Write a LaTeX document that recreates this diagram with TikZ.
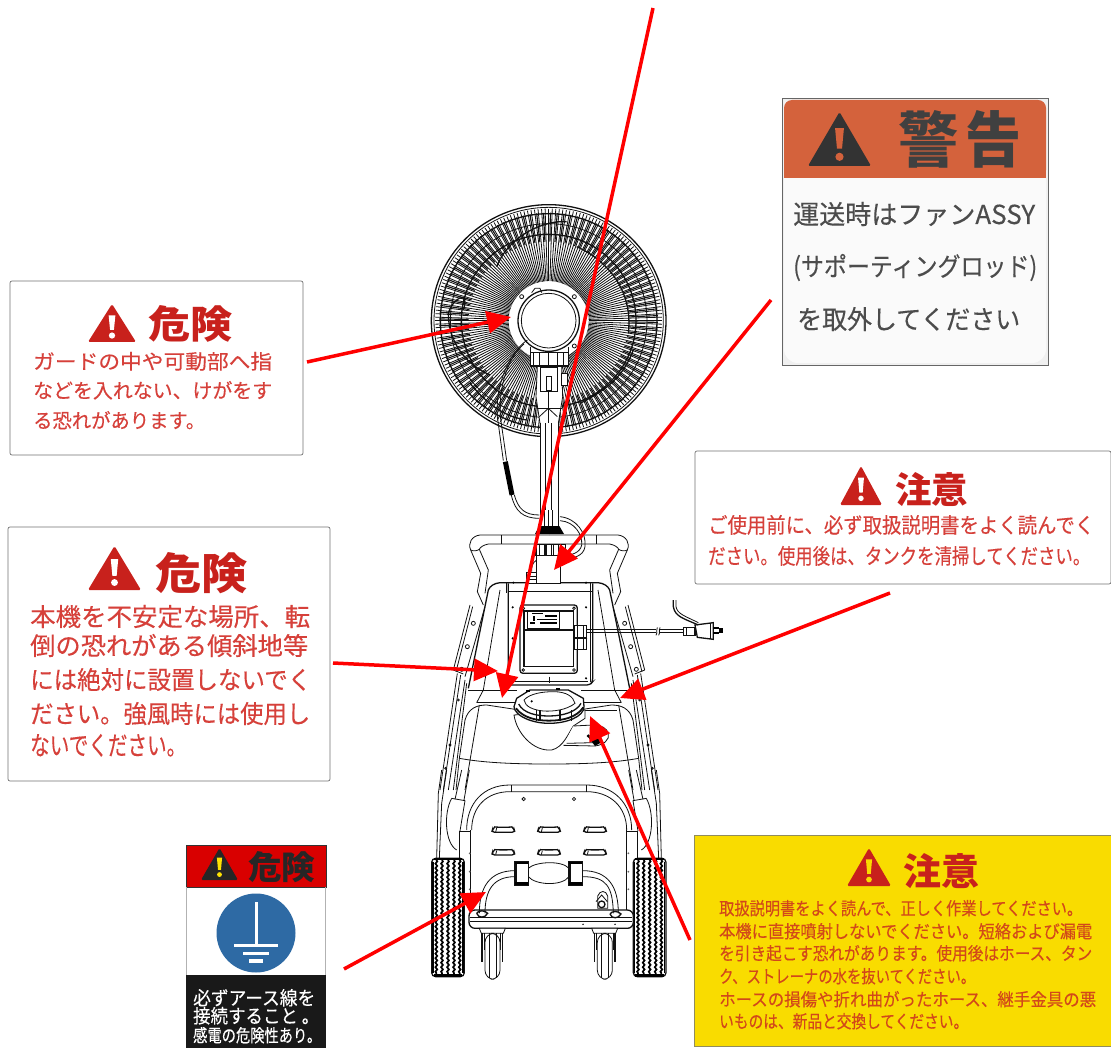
\documentclass[tikz,border=0pt]{standalone}
\usepackage{fontspec}
\usepackage{graphicx}
\newfontfamily\jp[FakeBold=0.25]{Noto Sans CJK JP}
\newfontfamily\jpb{Noto Sans CJK JP}
\usetikzlibrary{arrows.meta,decorations.pathmorphing}
\definecolor{redtxt}{HTML}{D6403A}
\definecolor{redhead}{HTML}{C8211C}
\definecolor{yeltxt}{HTML}{D2481A}
\definecolor{yelbg}{HTML}{F9DC00}
\definecolor{orhead}{HTML}{D4623C}
\definecolor{earth}{HTML}{2E6AA4}
\definecolor{lineblk}{HTML}{111111}
\newcounter{tln}
% colour, x, baseline, width, height, text
\newcommand\tl[6]{\stepcounter{tln}\node[anchor=base west,inner sep=0pt,text=#1] (tl\arabic{tln}) at (#2,#3) {\resizebox{#4pt}{#5pt}{\jp #6}};}
\newcommand\tlb[6]{\stepcounter{tln}\node[anchor=base west,inner sep=0pt,text=#1] (tl\arabic{tln}) at (#2,#3) {\resizebox{#4pt}{#5pt}{\jpb\bfseries #6}};}
% fill, mark, left, right, top, bottom
\newcommand\warn[6]{%
\fill[#1,rounded corners=1.5pt] ({(#3+#4)/2},#5) -- (#4,#6) -- (#3,#6) -- cycle;
\fill[#2] ({(#3+#4)/2-0.07*(#4-#3)},{#5+0.30*(#6-#5)}) -- ({(#3+#4)/2+0.07*(#4-#3)},{#5+0.30*(#6-#5)}) -- ({(#3+#4)/2+0.04*(#4-#3)},{#5+0.68*(#6-#5)}) -- ({(#3+#4)/2-0.04*(#4-#3)},{#5+0.68*(#6-#5)}) -- cycle;
\fill[#2] ({(#3+#4)/2},{#5+0.83*(#6-#5)}) circle ({0.065*(#4-#3)});}
\tikzset{
 lbl/.style={draw=black!55,fill=white,line width=.7pt,rounded corners=2pt},
 ink/.style={draw=lineblk,line width=.8pt},
 inkt/.style={draw=lineblk,line width=1.3pt},
 inkth/.style={draw=lineblk,line width=.6pt},
 callout/.style={draw=red,line width=3.5pt,-{Triangle[length=24pt,width=22pt]},shorten >=0pt},
 tread/.style={draw=black,line width=1.7pt,decorate,decoration={snake,amplitude=.9pt,segment length=4.5pt}}
}
\begin{document}
\begin{tikzpicture}[x=1pt,y=-1pt]
\useasboundingbox (0,0) rectangle (1111,1048);
\fill[white] (0,0) rectangle (1111,1048);

% ---------- FAN (zoom 1 coordinates)
\begin{scope}[shift={(420,190)},scale=1/3]
 \foreach \a in {0,1.8,...,358.5} {\draw[inkth,line width=.8pt] ({386+120*cos(\a)},{392+118*sin(\a)}) -- ({386+340*cos(\a)},{392+336*sin(\a)});}
 \foreach \a in {0.9,4.5,...,358} {\draw[inkth,line width=1.1pt] ({386+240*cos(\a)},{392+237*sin(\a)}) -- ({386+328*cos(\a)},{392+324*sin(\a)});}
 \draw[inkt] (386,392) ellipse (352 and 348);
 \draw[ink] (386,392) ellipse (344 and 340);
 \draw[inkt] (386,392) ellipse (325 and 321);
 \draw[inkt] (386,392) ellipse (262 and 259);
 \draw[ink] (386,392) ellipse (295 and 291);
 % blade arcs
 \draw[inkt] (230,230) .. controls (270,130) and (380,90) .. (440,95);
 \draw[inkt] (470,170) .. controls (560,210) and (640,300) .. (625,430);
 \draw[inkt] (130,360) .. controls (150,300) and (100,320) .. (85,370) .. controls (85,450) and (130,520) .. (210,555);
 \draw[inkt] (640,480) .. controls (610,560) and (560,600) .. (480,640);
 \draw[inkt] (150,580) .. controls (200,640) and (250,680) .. (320,690);
 % neck
 \fill[white] (352,530) -- (425,530) -- (430,620) -- (415,700) -- (360,700) -- (347,620) -- cycle;
 \draw[ink] (352,530) -- (348,620) -- (360,700);
 \draw[ink] (425,530) -- (428,620) -- (415,700);
 \draw[ink] (350,655) -- (426,655);
 \draw[ink] (358,680) -- (385,655) -- (412,680);
 \draw[ink] (385,605) -- (385,700);
 \draw[inkt,fill=white] (362,532) rectangle (413,605);
 \draw[ink] (378,560) rectangle (395,600);
 \draw[ink,fill=white] (425,550) rectangle (443,585);
 % hub
 \fill[white] (386,392) circle (118);
 \fill[white] (331,470) rectangle (444,527);
 \draw[ink] (330,470) -- (330,528) -- (445,528) -- (445,470);
 \foreach \x in {340,358,385,412,430} {\draw[inkt] (\x,490) -- (\x,527);}
 \draw[inkt] (330,527) -- (445,527);
 \draw[ink] (330,488) -- (445,488);
 \draw[inkt] (386,392) circle (92);
 \draw[ink] (386,392) circle (82);
 \draw[ink] (305,320) circle (6);
 \draw[ink] (463,320) circle (6);
 \draw[ink] (463,468) circle (6);
 \draw[ink] (335,308) -- (345,295) -- (360,295) -- (365,308);
 % stem
 \fill[white] (360,700) rectangle (415,1020);
 \foreach \x in {360,377,393,415} {\draw[ink] (\x,700) -- (\x,1020);}
 % cord
 \draw[ink] (322,450) .. controls (265,490) and (225,590) .. (232,680) -- (250,812);
 \draw[ink] (312,462) .. controls (265,500) and (235,590) .. (241,680) -- (260,812);
 \draw[line width=5pt,black] (256,815) -- (276,915);
 \draw[ink] (274,915) .. controls (285,965) and (310,985) .. (358,985);
 \draw[ink] (283,915) .. controls (295,958) and (315,975) .. (358,975);
\end{scope}

% ---------- BODY (zoom 2 coordinates)
\begin{scope}[shift={(420,510)},scale=1/3]
 \foreach \m in {0,1} {
 \begin{scope}[shift={(774*\m,0)},xscale={1-2*\m}]
  % handle
  \draw[ink] (387,75) -- (180,75) .. controls (155,78) and (143,100) .. (152,120) -- (182,190) -- (172,245) -- (190,285);
  \draw[ink] (387,102) -- (205,102) .. controls (190,105) and (180,112) .. (178,118) -- (205,180) -- (195,250);
  \draw[ink] (152,120) .. controls (160,125) and (172,122) .. (178,118);
  \draw[ink] (245,75) -- (245,102);
  % rails
  \draw[ink] (150,285) -- (100,480);
  \draw[ink] (158,290) -- (108,485);
  \draw[ink] (195,290) -- (135,500);
  \draw[ink] (100,480) -- (130,492);
  \draw[ink] (160,340) circle (6);
  \draw[ink] (142,410) circle (6);
  \draw[ink] (125,478) circle (6);
  \draw[ink] (112,490) -- (60,840);
  \draw[ink] (122,495) -- (70,840);
  \draw[ink] (135,510) -- (85,840);
  \draw[ink] (140,520) -- (100,840);
  \draw[ink] (115,570) circle (3);
  \draw[ink] (90,705) circle (3);
  \draw[ink] (77,775) circle (3);
  % body shoulders
  \draw[inkt] (387,218) -- (240,218) .. controls (222,220) and (210,228) .. (205,240) -- (145,535);
  \draw[ink] (240,240) -- (190,540);
  \draw[ink] (145,540) -- (290,540);
  \draw[ink] (170,578) -- (285,578);
  \draw[ink] (190,540) -- (170,578);
  \draw[ink] (135,630) .. controls (145,595) and (170,585) .. (200,585) -- (285,598);
  \draw[ink] (178,585) -- (135,840);
  \draw[ink] (135,630) -- (118,745) -- (108,840);
  \draw[ink] (118,745) .. controls (200,760) and (300,762) .. (387,762);
 \end{scope}}
 % collar and upper stem
 \fill[white] (372,0) rectangle (415,52);
 \foreach \x in {372,385,398,415} {\draw[ink] (\x,0) -- (\x,52);}
 \fill[black] (358,48) -- (418,48) -- (432,72) -- (345,72) -- cycle;
 \draw[ink,fill=white] (345,102) rectangle (435,135);
 \foreach \x in {350,358,375,380,395,400,415,425} {\draw[inkt] (\x,102) -- (\x,135);}
 \draw[ink,fill=white] (350,135) -- (420,135) -- (420,220) -- (350,220) -- cycle;
 \draw[ink] (420,20) .. controls (470,25) and (500,70) .. (495,110) .. controls (490,140) and (460,145) .. (420,150);
 \draw[ink] (420,32) .. controls (465,35) and (488,75) .. (485,105) .. controls (480,130) and (455,135) .. (420,140);
 \draw[ink] (350,150) .. controls (335,160) and (335,170) .. (335,185);
 \draw[inkt,fill=white] (320,188) rectangle (350,220);
 \draw[ink] (320,198) -- (350,198); \draw[ink] (320,208) -- (350,208);
 % panel
 \draw[inkt,rounded corners=3pt] (265,220) -- (265,525) -- (510,525) -- (518,515) -- (518,220);
 \draw[ink] (258,220) -- (258,250);
 \draw[ink] (510,220) -- (510,515);
 \draw[ink] (265,245) -- (515,245);
 \draw[ink] (275,515) -- (505,515);
 \foreach \p in {(278,292),(498,292),(278,385),(498,385),(278,505),(498,505),(280,218),(498,218)} {\fill[black] \p circle (3.5);}
 \draw[ink] (387,500) -- (387,520);
 % control box
 \draw[line width=1.3pt,draw=lineblk,rounded corners=3pt] (300,285) rectangle (472,490);
 \draw[inkt] (312,303) rectangle (460,470);
 \foreach \p in {(310,295),(462,295),(310,480),(462,480)} {\draw[ink] \p circle (4);}
 \draw[ink] (322,300) rectangle (418,356);
 \fill[black] (335,308) rectangle (370,312);
 \fill[black] (375,316) rectangle (412,322);
 \fill[black] (338,318) rectangle (344,334);
 \fill[black] (350,326) rectangle (412,330);
 \fill[black] (330,336) rectangle (345,341);
 \fill[black] (360,336) rectangle (412,341);
 \draw[inkt] (312,360) -- (460,360);
 % glands
 \draw[inkt,fill=white] (462,347) rectangle (500,382);
 \draw[ink] (472,347) -- (472,382); \draw[ink] (490,347) -- (490,382);
 \draw[inkt,fill=white] (462,386) rectangle (500,418);
 \draw[ink] (472,386) -- (472,418); \draw[ink] (490,386) -- (490,418);
 % cable and plug
 \draw[ink] (500,358) -- (708,358); \draw[ink] (500,368) -- (708,368);
 \draw[ink] (716,358) -- (790,358); \draw[ink] (716,368) -- (790,368);
 \draw[ink] (712,352) .. controls (705,360) and (715,365) .. (708,376);
 \draw[ink] (720,352) .. controls (713,360) and (723,365) .. (716,376);
 \draw[inkt,fill=white] (790,352) rectangle (825,376);
 \draw[ink] (800,352) -- (800,376);
 \draw[inkt,fill=white] (825,345) -- (880,338) -- (880,388) -- (832,382) -- cycle;
 \draw[ink] (872,339) -- (872,387);
 \fill[black] (880,352) rectangle (896,358);
 \fill[black] (880,366) rectangle (896,372);
 \fill[black] (896,354) rectangle (910,368);
 \draw[inkt] (760,270) -- (760,290) .. controls (765,320) and (790,325) .. (835,345);
 \draw[ink] (768,270) -- (768,290) .. controls (772,312) and (795,318) .. (835,338);
 % lower shelf line
 \draw[ink] (490,600) -- (590,600);
 % strainer cup
 \draw[ink,fill=white] (282,615) .. controls (290,670) and (340,725) .. (395,720) .. controls (430,712) and (445,670) .. (460,648) -- (495,625) -- (495,600) -- cycle;
 \draw[ink,fill=white] (430,706) -- (525,708) .. controls (550,705) and (570,690) .. (565,670) .. controls (560,655) and (545,645) .. (520,645) -- (460,648);
 \draw[ink] (440,700) -- (520,698);
 \fill[black] (505,682) -- (540,672) -- (548,695) -- (525,708) -- cycle;
 \fill[black] (505,678) circle (5);
 % strainer lid
 \draw[inkt,fill=white] (282,590) .. controls (285,620) and (340,640) .. (387,640) .. controls (440,640) and (492,620) .. (492,590) -- (490,565) -- (445,540) -- (330,540) -- (290,565) -- cycle;
 \draw[inkt] (296,582) .. controls (310,610) and (350,618) .. (387,618) .. controls (430,618) and (470,605) .. (483,580);
 \draw[line width=1.8pt,lineblk] (288,595) .. controls (310,624) and (350,632) .. (387,632) .. controls (430,632) and (470,622) .. (490,592);
 \draw[ink,fill=white] (312,570) .. controls (330,550) and (370,545) .. (400,545) .. controls (440,545) and (460,560) .. (465,580) .. controls (440,600) and (400,605) .. (370,603) .. controls (340,600) and (315,590) .. (312,570);
 \fill[black] (335,574) circle (3.5);
 \fill[black] (318,540) rectangle (330,546);
 \fill[black] (408,533) rectangle (420,540);
 \foreach \x in {360,420,350,455} {\draw[inkt] (\x,600) -- (\x,632);}
\end{scope}

% ---------- LOWER PART (zoom 3 coordinates)
\begin{scope}[shift={(420,770)},scale=1/3]
 % frame arc
 \draw[ink] (140,180) .. controls (140,100) and (190,45) .. (270,45) -- (500,45) .. controls (580,45) and (635,100) .. (635,180);
 \draw[ink] (155,180) .. controls (155,110) and (200,65) .. (270,65) -- (500,65) .. controls (570,65) and (620,110) .. (620,180);
 \draw[ink] (275,45) -- (275,65); \draw[ink] (498,45) -- (498,65);
 \draw[ink] (311,87) circle (5); \draw[ink] (462,87) circle (5);
 \draw[inkt] (152,180) -- (152,420);
 \draw[inkt] (620,180) -- (620,420);
 \draw[ink] (120,183) -- (152,183) (620,183) -- (650,183);
 \draw[ink] (118,183) -- (118,420) (652,183) -- (652,420);
 \foreach \x in {215,352,490} {\foreach \y in {180,248} {
  \draw[inkt,fill=white,rounded corners=3pt] (\x,{\y+7}) -- (\x+3,{\y-3}) .. controls (\x+8,{\y-8}) and (\x+62,{\y-8}) .. (\x+67,{\y-3}) -- (\x+70,{\y+7}) -- cycle;
  \draw[ink] (\x+12,{\y+6}) -- (\x+15,{\y-6});}}
 % side flaps
 \foreach \m in {0,1} {
 \begin{scope}[shift={(774*\m,0)},xscale={1-2*\m}]
  \draw[ink] (50,265) -- (55,70) -- (65,0);
  \draw[ink] (58,265) -- (65,100) -- (80,0);
  \draw[ink] (95,85) -- (135,92) -- (120,183);
  \draw[ink] (95,85) .. controls (70,130) and (75,220) .. (110,240);
  \draw[ink] (125,0) -- (105,88);
  \draw[ink] (148,0) -- (132,90);
  \foreach \y in {250,305,358} {\fill[black!60] (149,\y) circle (3);}
 \end{scope}}
 % wheels
 \foreach \x in {35,640} {
  \draw[inkt,fill=white,rounded corners=4pt] (\x,265) rectangle (\x+98,620);
  \fill[black] (\x+6,265) rectangle (\x+92,270);
  \fill[black] (\x+6,612) rectangle (\x+92,620);
  \draw[line width=1.6pt,black] (\x+4,275) -- (\x+4,610) (\x+94,275) -- (\x+94,610);
  \foreach \d in {14,31,49,67,84} {\draw[tread] (\x+\d,270) -- (\x+\d,612);}
 }
 % bar
 \draw[inkt,fill=white,rounded corners=6pt] (147,420) rectangle (640,475);
 \draw[ink] (150,442) -- (635,442);
 \draw[ink] (150,453) -- (635,453);
 \fill[black] (489,463) circle (2.5); \fill[black] (585,463) circle (2.5);
 % hoses
 \draw[ink] (178,430) .. controls (178,350) and (210,302) .. (285,302);
 \draw[ink] (195,430) .. controls (195,360) and (220,320) .. (285,320);
 \draw[ink] (580,430) .. controls (578,350) and (560,320) .. (488,320);
 \draw[ink] (595,430) .. controls (595,350) and (565,302) .. (488,302);
 \draw[inkt] (170,430) .. controls (175,445) and (195,445) .. (203,430) .. controls (195,420) and (175,420) .. (170,430);
 \draw[inkt] (570,432) .. controls (575,447) and (595,447) .. (603,432) .. controls (595,422) and (575,422) .. (570,432);
 \draw[ink] (325,295) .. controls (345,275) and (425,270) .. (447,295);
 \draw[ink] (325,320) .. controls (345,345) and (425,350) .. (447,320);
 \foreach \x in {285,447} {
  \draw[inkt,fill=white] (\x,275) rectangle (\x+40,345);
  \fill[black] (\x,275) rectangle (\x+40,283);
  \fill[black] (\x,337) rectangle (\x+40,345);
  \draw[ink] (\x+5,283) -- (\x+5,337);
 }
 % valve
 \draw[ink,fill=white] (533,415) -- (533,378) .. controls (540,360) and (558,360) .. (563,378) -- (563,415) -- cycle;
 \draw[inkt] (545,403) circle (10);
 \draw[ink] (528,395) -- (545,375) -- (562,395);
 % castors
 \foreach \x in {178,515} {
  \draw[ink,fill=white] (\x,475) -- (\x+78,475) -- (\x+72,490) -- (\x+6,490) -- cycle;
  \draw[inkt] (\x+8,490) -- (\x+8,575);
  \draw[inkt] (\x+70,490) -- (\x+70,575);
  \draw[ink] (\x+14,490) -- (\x+14,540);
  \draw[ink] (\x+64,490) -- (\x+64,540);
  \draw[ink,fill=white,rounded corners=9pt] (\x+17,490) rectangle (\x+62,628);
  \draw[ink] (\x+30,490) -- (\x+30,625);
  \draw[ink] (\x+50,490) -- (\x+50,625);
 }
\end{scope}

% ---------- LABEL A
\draw[lbl] (10,281) rectangle (303,455);
\warn{redhead}{white}{88}{136}{304}{342}
\tlb{redhead}{148}{339}{84}{33}{危険}
\tl{redtxt}{33}{369}{239}{17}{ガードの中や可動部へ指}
\tl{redtxt}{33}{398}{239}{17}{などを入れない、けがをす}
\tl{redtxt}{33}{428}{172}{17}{る恐れがあります。}

% ---------- LABEL B
\draw[lbl] (8,527) rectangle (330,781);
\warn{redhead}{white}{88}{141}{546}{590}
\tlb{redhead}{155}{589}{92}{37}{危険}
\tl{redtxt}{30}{626}{280}{21}{本機を不安定な場所、転}
\tl{redtxt}{30}{655}{278}{21}{倒の恐れがある傾斜地等}
\tl{redtxt}{30}{689}{281}{21}{には絶対に設置しないでく}
\tl{redtxt}{30}{723}{280}{21}{ださい。強風時には使用し}
\tl{redtxt}{30}{755}{156}{21}{ないでください。}

% ---------- LABEL C
\draw[black!60,fill=black!6,line width=.7pt] (782,98) rectangle (1048,365);
\fill[black!2,rounded corners=14pt] (784,120) rectangle (1046,363);
\fill[orhead,rounded corners=8pt] (784,100) -- (1046,100) -- (1046,178) -- (784,178) -- cycle;
\fill[orhead] (784,130) rectangle (1046,178);
\warn{black!80}{orhead}{808}{871}{112}{166}
\tlb{black!75}{898}{163}{60}{52}{警}
\tlb{black!75}{965}{163}{56}{52}{告}
\tl{black!70}{793}{224}{242}{22}{運送時はファンASSY}
\tl{black!70}{793}{276}{244}{22}{(サポーティングロッド)}
\tl{black!70}{797}{329}{223}{22}{を取外してください}

% ---------- LABEL D
\draw[lbl] (695,451) rectangle (1111,584);
\warn{redhead}{white}{840}{882}{466}{505}
\tlb{redhead}{895}{503}{73}{31}{注意}
\tl{redtxt}{708}{533}{386}{18}{ご使用前に、必ず取扱説明書をよく読んでく}
\tl{redtxt}{708}{564}{382}{18}{ださい。使用後は、タンクを清掃してください。}

% ---------- LABEL E
\draw[draw=black!50!yellow!70!gray,fill=yelbg,line width=1pt] (694,835) rectangle (1111,1046);
\warn{redhead}{yelbg}{847}{891}{848}{886}
\tlb{redhead}{903}{885}{76}{32}{注意}
\tl{yeltxt}{719}{915}{363}{15}{取扱説明書をよく読んで、正しく作業してください。}
\tl{yeltxt}{719}{938}{373}{15}{本機に直接噴射しないでください。短絡および漏電}
\tl{yeltxt}{719}{960}{373}{15}{を引き起こす恐れがあります。使用後はホース、タン}
\tl{yeltxt}{719}{983}{256}{15}{ク、ストレーナの水を抜いてください。}
\tl{yeltxt}{719}{1006}{377}{15}{ホースの損傷や折れ曲がったホース、継手金具の悪}
\tl{yeltxt}{719}{1028}{249}{15}{いものは、新品と交換してください。}

% ---------- LABEL F
\fill[white] (186,845) rectangle (326,1048);
\fill[red!85!black] (186,845) rectangle (326,887);
\draw[black!80,line width=1pt] (186,845) rectangle (326,887);
\draw[black!30,line width=.7pt] (186,887) -- (186,975) (325,887) -- (325,975);
\warn{black!85}{yellow!85!orange}{201}{238}{848}{880}
\tlb{black!85}{248}{879}{67}{28}{危険}
\fill[earth] (256,933) circle (39.5);
\fill[white] (255,902) rectangle (257.5,944);
\fill[white] (234,943.5) rectangle (278,947);
\fill[white] (243,951.5) rectangle (269,955);
\fill[white] (249,959) rectangle (263,962.5);
\fill[black!90] (186,975) rectangle (326,1048);
\tl{white}{193}{1005}{122}{16}{必ずアース線を}
\tl{white}{193}{1023}{126}{16}{接続すること 。}
\tl{white}{193}{1042}{128}{15}{感電の危険性あり。}

% ---------- CALLOUTS
\coordinate (a1s) at (653,8);    \coordinate (a1e) at (502,698);
\coordinate (a2s) at (771,300);  \coordinate (a2e) at (554,570);
\coordinate (a3s) at (890,593);  \coordinate (a3e) at (620,698);
\coordinate (a4s) at (690,940);  \coordinate (a4e) at (590,716);
\coordinate (a5s) at (333,663);  \coordinate (a5e) at (498,671);
\coordinate (a6s) at (307,362);  \coordinate (a6e) at (511,317);
\coordinate (a7s) at (344,969);  \coordinate (a7e) at (486,892);
\foreach \n in {1,...,7} {\draw[callout] (a\n s) -- (a\n e);}
\end{tikzpicture}
\end{document}
